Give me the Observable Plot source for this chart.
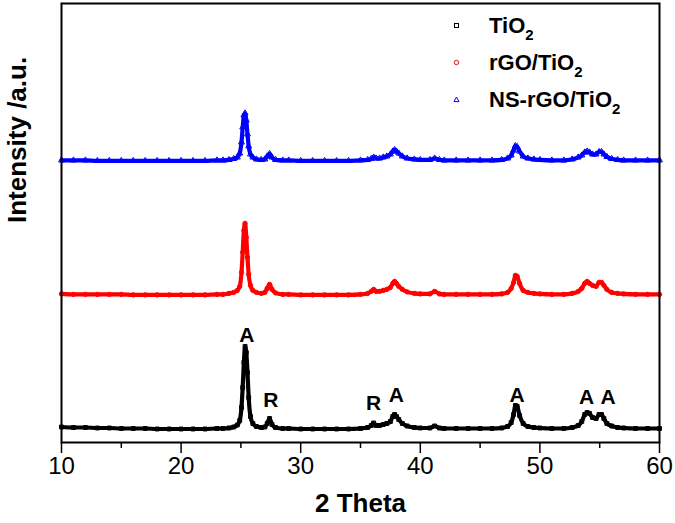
<!DOCTYPE html>
<html>
<head>
<meta charset="utf-8">
<script src="https://cdn.jsdelivr.net/npm/d3@7"></script>
<script src="https://cdn.jsdelivr.net/npm/@observablehq/plot@0.6"></script>
<style>
  html, body { margin: 0; padding: 0; background: #fff; }
  #wrap { position: relative; width: 675px; height: 523px; font-family: "Liberation Sans", Arial, sans-serif; }
  #legend { position: absolute; left: 448px; top: 12px; font-weight: bold; font-size: 22px; color: #000; }
  #legend .row { position: relative; height: 37px; }
  #legend svg { position: absolute; left: 5px; top: 10px; }
  #legend .lab { position: absolute; left: 41px; top: 1px; white-space: nowrap; }
  #legend sub { font-size: 15px; vertical-align: -7px; line-height: 0; }
</style>
</head>
<body>
<div id="wrap">
  <div id="chart"></div>
  <div id="legend"></div>
</div>
<script>
// 2θ grid (degrees) shared by all three patterns
const twoTheta = [10, 11, 12, 13, 14, 15, 16, 17, 18, 19, 20, 21, 22, 23, 23.5, 24, 24.4, 24.7, 24.9, 25.05, 25.15, 25.25, 25.35, 25.45, 25.55, 25.65, 25.8, 26.0, 26.3, 26.7, 27.0, 27.2, 27.4, 27.6, 27.9, 28.5, 29, 30, 31, 32, 33, 34, 35, 35.6, 35.9, 36.1, 36.3, 36.6, 36.9, 37.2, 37.5, 37.7, 37.85, 38.0, 38.2, 38.5, 38.9, 39.5, 40, 40.8, 41.2, 41.6, 42, 43, 44, 45, 46, 46.8, 47.3, 47.6, 47.8, 47.95, 48.1, 48.3, 48.6, 49, 49.5, 50, 51, 52, 52.7, 53.2, 53.5, 53.75, 53.95, 54.15, 54.4, 54.7, 54.95, 55.15, 55.35, 55.6, 56, 56.5, 57, 58, 59, 60];

// Intensities (a.u., offset patterns as plotted)
const tio2 = [15.5, 15, 15, 14.5, 14.5, 14, 14, 14, 13.5, 13.5, 13.5, 13.5, 13.5, 14, 14, 14.5, 15.5, 17.5, 22, 35, 55, 80, 96, 90, 70, 45, 26, 19, 16, 15, 15.5, 19, 24, 18, 15, 14, 14, 13.5, 13.5, 13.5, 13.5, 13.5, 14, 15, 17, 19.5, 17, 17, 18, 19, 21, 26, 28, 26, 23, 19, 16.5, 15, 14.5, 14.5, 16.5, 14.5, 14, 14, 14, 14, 14, 14.5, 16, 20, 28, 37, 36, 27, 19, 16, 15, 14.5, 14, 14, 15, 17, 21, 28, 30, 29, 25, 24, 28, 28, 24, 19, 16.5, 15, 14.5, 14, 14, 14];

const rgoTio2 = [148.5, 148, 148, 148, 148, 148, 147.5, 147.5, 147.5, 147.5, 147.5, 147.5, 147.5, 148, 148, 149, 150, 152, 156, 170, 190, 212, 219, 205, 185, 168, 157, 152, 150, 149, 150, 154, 158, 153, 149.5, 148, 148, 147.5, 147.5, 147.5, 147.5, 147.5, 148, 149, 151, 153, 151, 151, 152, 153, 155, 159, 161, 159, 156, 153, 150.5, 149, 148.5, 148.5, 151, 148.5, 148, 148, 148, 148, 148, 148.5, 150, 154, 160, 167, 166, 159, 152, 150, 149, 148.5, 148, 148, 149, 151, 154, 159, 161, 159, 157, 156, 160, 160, 157, 153, 150, 149, 148.5, 148, 148, 148];

const nsRgoTio2 = [282, 282, 282, 281.5, 281.5, 281.5, 281.5, 281.5, 281.5, 281.5, 281.5, 281.5, 281.5, 282, 282, 282.5, 283.5, 285, 289, 300, 315, 327, 329, 322, 308, 296, 288, 285, 283, 282.5, 283, 286, 288.5, 285, 282.5, 282, 282, 281.5, 281.5, 281.5, 281.5, 281.5, 282, 282.5, 283.5, 285, 284, 284, 285, 286, 288, 291, 292.5, 291, 289, 286, 284, 283, 282.5, 282.5, 284, 282.5, 282, 282, 282, 282, 282, 282.5, 284, 287, 292, 296.5, 295.5, 291, 286, 284, 283, 282.5, 282, 282, 283, 285, 287, 290, 291, 290, 288, 288, 290.5, 290.5, 288, 285.5, 283.5, 282.5, 282, 282, 282, 282];

// Phase annotations on the TiO2 pattern (A = anatase, R = rutile)
const phaseText = ["A", "R", "R", "A", "A", "A", "A"];
const phaseTheta = [25.5, 27.5, 36.1, 38.0, 48.1, 53.9, 55.7];
const phaseY = [107, 42, 39, 47, 47, 45, 45];

const xTicks = [10, 20, 30, 40, 50, 60];
const xMinor = [15, 25, 35, 45, 55];

const seriesNames = ["TiO2", "rGO/TiO2", "NS-rGO/TiO2"];
const seriesColors = ["#000000", "#ff0000", "#0000ff"];
const seriesSymbols = ["square", "circle", "triangle"];
const seriesValues = [tio2, rgoTio2, nsRgoTio2];

const rows = [];
seriesValues.forEach((vals, s) => vals.forEach((v, i) => rows.push({series: seriesNames[s], theta: twoTheta[i], y: v})));
const labels = phaseText.map((t, i) => ({t, x: phaseTheta[i], y: phaseY[i]}));

const marks = [];
seriesNames.forEach((name, s) => {
  const data = rows.filter(d => d.series === name);
  marks.push(Plot.line(data, {x: "theta", y: "y", stroke: seriesColors[s], strokeWidth: 4.2, curve: "monotone-x"}));
  marks.push(Plot.dot(data, {x: "theta", y: "y", stroke: seriesColors[s], symbol: seriesSymbols[s], r: 2.2, strokeWidth: 1, fill: "none"}));
});

const chart = Plot.plot({
  width: 675,
  height: 523,
  marginLeft: 61,
  marginRight: 16,
  marginTop: 3,
  marginBottom: 81,
  style: {fontFamily: "'Liberation Sans', Arial, sans-serif", background: "white"},
  x: {domain: [10, 60]},
  y: {domain: [0, 438.7], axis: null},
  marks: [
    ...marks,
    Plot.text(labels, {x: "x", y: "y", text: "t", fontSize: 21, fontWeight: "bold", fill: "black"}),
    Plot.frame({stroke: "black", strokeWidth: 2}),
    Plot.axisX({ticks: xMinor, tickSize: 6, tickFormat: () => "", strokeWidth: 1.5, label: null}),
    Plot.axisX({ticks: xTicks, tickSize: 11, tickPadding: 3, fontSize: 24, strokeWidth: 1.5, label: null, tickFormat: d3.format("d")}),
    Plot.text(["2 Theta"], {frameAnchor: "bottom", dy: 69, fontSize: 26, fontWeight: "bold", fill: "black"}),
    Plot.text(["Intensity /a.u."], {frameAnchor: "left", dx: -44, rotate: -90, fontSize: 26, fontWeight: "bold", fill: "black"})
  ]
});
document.getElementById("chart").appendChild(chart);

// legend
const leg = document.getElementById("legend");
const symPaths = {
  square: '<rect x="1.5" y="1.5" width="4" height="4" fill="none" stroke-width="1"/>',
  circle: '<circle cx="3.5" cy="3.5" r="2.2" fill="none" stroke-width="1"/>',
  triangle: '<path d="M3.5,1 L6,5.6 L1,5.6 Z" fill="none" stroke-width="1"/>'
};
seriesNames.forEach((name, s) => {
  const row = document.createElement("div");
  row.className = "row";
  const base = name.slice(0, -1);
  row.innerHTML = `<svg width="7" height="7" stroke="${seriesColors[s]}">${symPaths[seriesSymbols[s]]}</svg><span class="lab">${base}<sub>2</sub></span>`;
  leg.appendChild(row);
});
</script>
</body>
</html>
